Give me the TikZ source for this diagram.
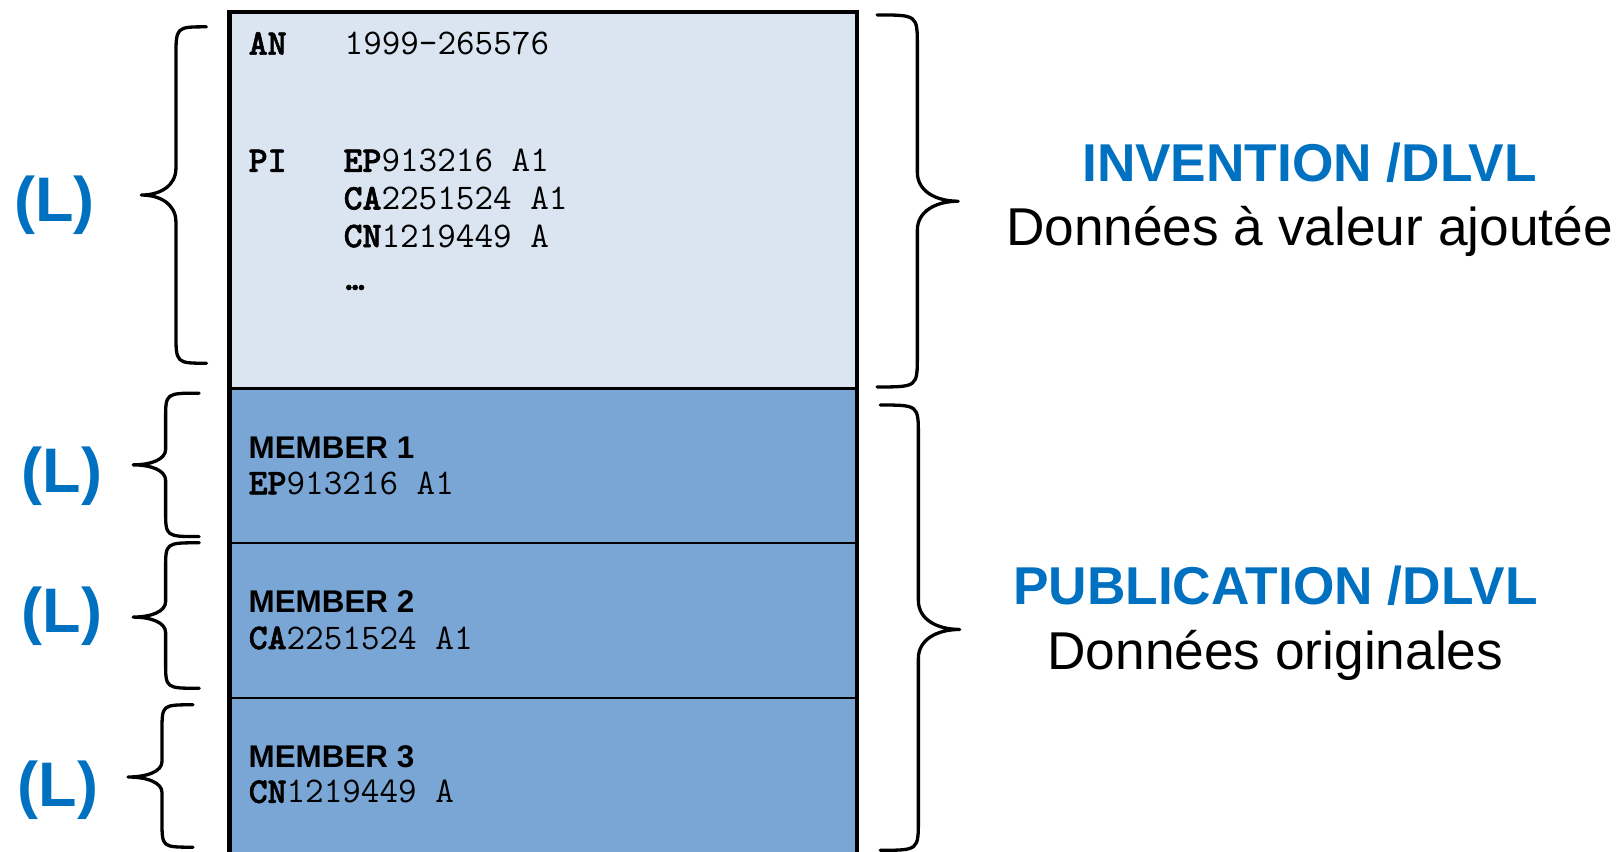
\documentclass[tikz,border=0pt]{standalone}
\usepackage{fontspec}
\setmainfont{Liberation Sans}
% heavier face for the country prefixes of the typewriter lines
\newfontfamily\codebold{lmmonolt10-bold.otf}[FakeBold=1.6]
\newcommand{\cc}[1]{{\codebold #1}}

\definecolor{lvlblue}{RGB}{0,112,192}
\definecolor{inventfill}{RGB}{219,229,241}
\definecolor{memberfill}{RGB}{122,166,214}

% curly brace: end x, stem x, tip x, top y, tip y, bottom y, corner depth, tip depth
\newcommand{\curlybrace}[8]{%
  \draw[bracestroke] (#1,#4) .. controls (#2,#4) .. (#2,{#4+#7})
    -- (#2,{#5-#8}) .. controls (#2,{#5-0.35*#8}) and ({#2+0.45*(#3-#2)},#5) .. (#3,#5)
    .. controls ({#2+0.45*(#3-#2)},#5) and (#2,{#5+0.35*#8}) .. (#2,{#5+#8})
    -- (#2,{#6-#7}) .. controls (#2,#6) .. (#1,#6);}

\tikzset{
  every node/.style={inner sep=0pt, outer sep=0pt},
  section/.style={draw=black, line width=1pt, anchor=north west, minimum width=304pt},
  frame/.style={line width=2.2pt},
  code/.style={anchor=base west, font=\fontsize{17.5}{20}\selectfont\ttfamily},
  member/.style={anchor=base west, font=\fontsize{15.2}{18}\selectfont\bfseries},
  level/.style={anchor=base, text=lvlblue, font=\fontsize{30.5}{36}\selectfont\bfseries},
  heading/.style={anchor=base, text=lvlblue, font=\fontsize{25.8}{30}\selectfont\bfseries},
  caption/.style={anchor=base, font=\fontsize{25.8}{30}\selectfont},
  bracestroke/.style={line width=1.6pt, line cap=round, line join=round}
}

\begin{document}
\begin{tikzpicture}[x=0.5pt, y=-0.5pt]
\useasboundingbox (0,0) rectangle (1568,825);

% family record: invention block and its members
\node[section, fill=inventfill, minimum height=182.45pt] (inv) at (222.4,11.6) {};
\node[section, fill=memberfill, minimum height=74.75pt] (m1) at (inv.south west) {};
\node[section, fill=memberfill, minimum height=75pt] (m2) at (m1.south west) {};
\node[section, fill=memberfill, minimum height=80pt] (m3) at (m2.south west) {};
\draw[frame] (inv.north west) rectangle (m3.south east);

% invention block content
\node[code] (an)    at (241,53)    {\cc{AN}};
\node[code] (anv)   at (334,53)    {1999-265576};
\node[code] (pi)    at (241,166.5) {\cc{PI}};
\node[code] (pi1)   at (333,166.5) {\cc{EP}913216 A1};
\node[code] (pi2)   at (333,203)   {\cc{CA}2251524 A1};
\node[code] (pi3)   at (333,239.5) {\cc{CN}1219449 A};
\node[code] (pimore) at (335,281)  {\cc{…}};

% member blocks content
\node[member] (m1t) at (241,444) {MEMBER 1};
\node[code]   (m1c) at (241,479) {\cc{EP}913216 A1};
\node[member] (m2t) at (241,594) {MEMBER 2};
\node[code]   (m2c) at (241,629) {\cc{CA}2251524 A1};
\node[member] (m3t) at (241,744) {MEMBER 3};
\node[code]   (m3c) at (241,778) {\cc{CN}1219449 A};

% left braces with level marks
\curlybrace{200}{170.5}{137}{26}{189}{352}{30}{26}
\curlybrace{193}{160.5}{129}{381}{450.5}{520}{25}{15}
\curlybrace{193}{160.5}{129}{526}{598}{667}{25}{15}
\curlybrace{187}{157}{124}{683}{753}{821}{25}{15}
\node[level] (l1) at (53,215)   {(L)};
\node[level] (l2) at (60,477)   {(L)};
\node[level] (l3) at (60,612.5) {(L)};
\node[level] (l4) at (56,782)   {(L)};

% right braces with data levels
\curlybrace{850}{889}{928.6}{14.5}{195}{375}{30}{28}
\curlybrace{853}{890}{930}{392.5}{610}{824}{30}{28}
\node[heading] (invh) at (1269,176)   {INVENTION /DLVL};
\node[caption] (invc) at (1269,238)   {Données à valeur ajoutée};
\node[heading] (pubh) at (1236,586)   {PUBLICATION /DLVL};
\node[caption] (pubc) at (1236,648.5) {Données originales};
\end{tikzpicture}
\end{document}
